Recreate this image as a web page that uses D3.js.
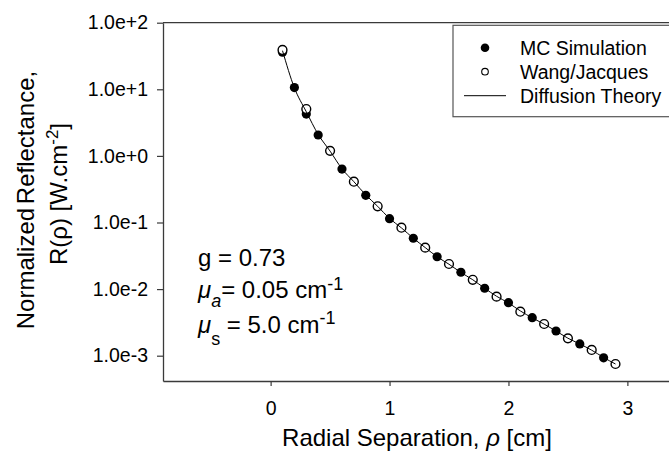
<!DOCTYPE html>
<html>
<head>
<meta charset="utf-8">
<script src="https://cdn.jsdelivr.net/npm/d3@7"></script>
<style>
  html, body { margin: 0; padding: 0; background: #fff; }
  svg { display: block; }
  text { font-family: "Liberation Sans", Arial, Helvetica, sans-serif; fill: #000; }
</style>
</head>
<body>
<svg id="chart" width="669" height="456"></svg>
<script>
// ---- data ----
const mcX = [0.1, 0.2, 0.3, 0.4, 0.6, 0.8, 1.0, 1.2, 1.4, 1.6, 1.8, 2.0, 2.2, 2.4, 2.6, 2.8];
const mcY = [36, 10.6, 4.25, 2.06, 0.635, 0.256, 0.114, 0.058, 0.0306, 0.0179, 0.0103, 0.00625, 0.00372, 0.00235, 0.0015, 0.00093];

const wjX = [0.1, 0.3, 0.5, 0.7, 0.9, 1.1, 1.3, 1.5, 1.7, 1.9, 2.1, 2.3, 2.5, 2.7, 2.9];
const wjY = [39, 5.06, 1.19, 0.41, 0.175, 0.0835, 0.0419, 0.0238, 0.0138, 0.0077, 0.00458, 0.00299, 0.00182, 0.00122, 0.00075];

const dtX = [0.1, 0.2, 0.3, 0.4, 0.5, 0.6, 0.7, 0.8, 0.9, 1.0, 1.1, 1.2, 1.3, 1.4, 1.5, 1.6, 1.7, 1.8, 1.9, 2.0, 2.1, 2.2, 2.3, 2.4, 2.5, 2.6, 2.7, 2.8, 2.9];
const dtY = [38, 10.5, 4.6, 2.1, 1.18, 0.64, 0.41, 0.26, 0.175, 0.115, 0.083, 0.058, 0.042, 0.0306, 0.0236, 0.0178, 0.0138, 0.0103, 0.0078, 0.0062, 0.0047, 0.0037, 0.00298, 0.00235, 0.00183, 0.0015, 0.00121, 0.00094, 0.00075];

const yTickValues = [1e2, 1e1, 1e0, 1e-1, 1e-2, 1e-3];
const yTickLabels = ["1.0e+2", "1.0e+1", "1.0e+0", "1.0e-1", "1.0e-2", "1.0e-3"];
const xTickValues = [0, 1, 2, 3];
const xTickLabels = ["0", "1", "2", "3"];

const legendLabels = ["MC Simulation", "Wang/Jacques", "Diffusion Theory"];

// ---- layout ----
const svg = d3.select("#chart");
const L = 163, R = 669, T = 22.7, B = 381;
const axisColor = "#3a3a3a";

const x = d3.scaleLinear().domain([-0.905, 3.35]).range([L, R]);
const y = d3.scaleLog().domain([Math.pow(10, -3.38), 100]).range([B, T]);

// axes
const yAxis = d3.axisLeft(y)
  .tickValues(yTickValues)
  .tickFormat((d, i) => yTickLabels[i])
  .tickSize(6).tickSizeOuter(0).tickPadding(9);
const gy = svg.append("g").attr("transform", `translate(${L},0)`).call(yAxis);

const xAxis = d3.axisBottom(x)
  .tickValues(xTickValues)
  .tickFormat((d, i) => xTickLabels[i])
  .tickSize(5).tickSizeOuter(0).tickPadding(15);
const gx = svg.append("g").attr("transform", `translate(0,${B})`).call(xAxis);

[gx, gy].forEach(g => {
  g.selectAll("path.domain").attr("stroke", axisColor).attr("stroke-width", 1.3);
  g.selectAll(".tick line").attr("stroke", axisColor).attr("stroke-width", 1.2);
  g.selectAll(".tick text").attr("font-size", 19.5).attr("fill", "#000")
    .style("font-family", '"Liberation Sans", Arial, sans-serif');
});

// top frame line
svg.append("line").attr("x1", L).attr("x2", R).attr("y1", T).attr("y2", T)
  .attr("stroke", axisColor).attr("stroke-width", 1.3);

// data marks
const mc = mcX.map((d, i) => [d, mcY[i]]);
const wj = wjX.map((d, i) => [d, wjY[i]]);
const dt = dtX.map((d, i) => [d, dtY[i]]);

svg.append("g").selectAll("circle").data(mc).join("circle")
  .attr("cx", d => x(d[0])).attr("cy", d => y(d[1])).attr("r", 4.6)
  .attr("fill", "#000");

svg.append("g").selectAll("circle").data(wj).join("circle")
  .attr("cx", d => x(d[0])).attr("cy", d => y(d[1])).attr("r", 4.4)
  .attr("fill", "#fff").attr("stroke", "#000").attr("stroke-width", 1.4);

const line = d3.line().x(d => x(d[0])).y(d => y(d[1])).curve(d3.curveMonotoneX);
svg.append("path").datum(dt).attr("d", line)
  .attr("fill", "none").attr("stroke", "#000").attr("stroke-width", 1);

// legend
const lg = svg.append("g");
lg.append("rect").attr("x", 453).attr("y", 25.3).attr("width", 230).attr("height", 91.4)
  .attr("fill", "#fff").attr("stroke", "#555").attr("stroke-width", 1.2);
const rows = [47.7, 71.7, 95.7];
lg.append("circle").attr("cx", 485).attr("cy", rows[0]).attr("r", 4.3).attr("fill", "#000");
lg.append("circle").attr("cx", 485).attr("cy", rows[1]).attr("r", 3.3)
  .attr("fill", "#fff").attr("stroke", "#000").attr("stroke-width", 1.1);
lg.append("line").attr("x1", 464).attr("x2", 506).attr("y1", rows[2]).attr("y2", rows[2])
  .attr("stroke", "#000").attr("stroke-width", 1);
lg.selectAll("text.lab").data(legendLabels).join("text").attr("class", "lab")
  .attr("x", 520).attr("y", (d, i) => rows[i] + 7)
  .attr("font-size", 19.5).text(d => d);

// annotation
const ann = svg.append("g").attr("font-size", 24);
ann.append("text").attr("x", 198).attr("y", 266).text("g = 0.73");

const t2 = ann.append("text").attr("x", 198).attr("y", 298);
t2.append("tspan").attr("font-style", "italic").text("μ");
t2.append("tspan").attr("font-style", "italic").attr("font-size", 18).attr("dy", 9).text("a");
t2.append("tspan").attr("dy", -9).text("= 0.05 cm");
t2.append("tspan").attr("font-size", 18).attr("dy", -8).text("-1");

const t3 = ann.append("text").attr("x", 198).attr("y", 333);
t3.append("tspan").attr("font-style", "italic").text("μ");
t3.append("tspan").attr("font-size", 18).attr("dy", 12).text("s");
t3.append("tspan").attr("dy", -12).text(" = 5.0 cm");
t3.append("tspan").attr("font-size", 18).attr("dy", -9).text("-1");

// axis titles
const xt = svg.append("text").attr("x", 417).attr("y", 446).attr("text-anchor", "middle")
  .attr("font-size", 24);
xt.append("tspan").text("Radial Separation, ");
xt.append("tspan").attr("font-style", "italic").text("ρ");
xt.append("tspan").text(" [cm]");

svg.append("text").attr("transform", "translate(34,200) rotate(-90)")
  .attr("text-anchor", "middle").attr("font-size", 24).attr("word-spacing", -3)
  .text("Normalized Reflectance,");
const yt2 = svg.append("text").attr("transform", "translate(67,194) rotate(-90)")
  .attr("text-anchor", "middle").attr("font-size", 24);
yt2.append("tspan").text("R(ρ) [W.cm");
yt2.append("tspan").attr("font-size", 17).attr("dy", -9).text("-2");
yt2.append("tspan").attr("dy", 9).text("]");
</script>
</body>
</html>
